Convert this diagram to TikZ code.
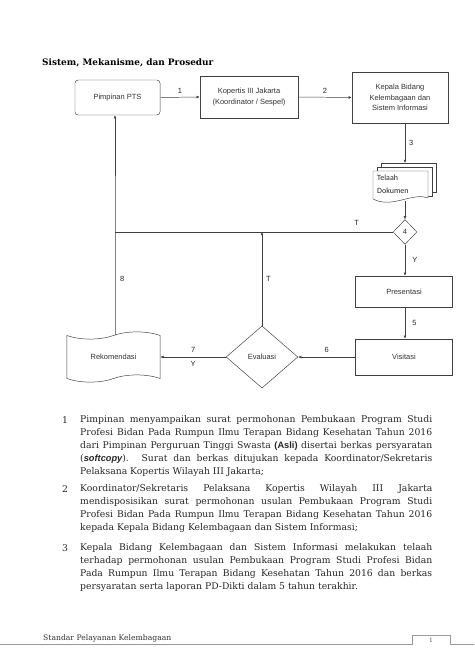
\documentclass[tikz,border=0pt]{standalone}
\usepackage{fontspec}
\setmainfont{DejaVu Serif}
\setsansfont{Liberation Sans}
\newfontfamily\docfont{Carlito}
\usetikzlibrary{shapes.geometric,shapes.symbols,arrows.meta}
\newcommand\flowfont{\sffamily\fontsize{9.4}{13.2}\selectfont}
\newcommand\bodyfont{\fontsize{11.6}{16.3}\selectfont}
\tikzset{
  box/.style={draw=black!75,fill=white,align=center,font=\flowfont,text=black!80},
  pbox/.style={box,rounded corners=4pt},
  dec/.style={box,diamond},
  rekombox/.style={box,tape,tape bend top=in and out,tape bend bottom=in and out,tape bend height=9pt},
  lbl/.style={font=\flowfont,text=black!85,inner sep=2pt},
  flow/.style={->,draw=black!75},
  para/.style={text width=441.8pt,align=justify,font=\bodyfont,text=black!85},
}
\begin{document}
\begin{tikzpicture}[x=1.255pt,y=-1.255pt,> = {Latex[length=4pt,width=3.5pt]},line width=0.6pt,every node/.style={inner sep=0pt}]
	\useasboundingbox (0,0) rectangle (474,670);
	% title
	\node[anchor=base west,font=\bfseries\fontsize{11.2}{13}\selectfont] (title) at (42,66) {Sistem, Mekanisme, dan Prosedur};
	% flow chart
	\node[pbox,minimum width=106.7pt,minimum height=43.9pt] (pimpinan) at (117.5,97.5) {Pimpinan PTS};
	\node[box,minimum width=123pt,minimum height=52.7pt] (kopertis) at (249,97) {Kopertis III Jakarta\\(Koordinator / Sespel)};
	\node[box,minimum width=120.5pt,minimum height=64pt] (kepala) at (400,97.5) {Kepala Bidang\\Kelembagaan dan\\Sistem Informasi};
	% telaah dokumen
	\draw[draw=black!75,fill=white] (381,168) -- (381,163) -- (436,163) -- (436,192) -- (432,192);
	\draw[draw=black!75,fill=white] (377,172) -- (377,167) -- (432,167) -- (432,196) -- (428,196);
	\draw[draw=black!75,fill=white] (373,171) -- (428,171) -- (428,198) .. controls (412,192) and (392,209) .. (373,199) -- cycle;
	\node[anchor=west,align=left,font=\docfont\fontsize{10}{16}\selectfont,text=black!85] (telaah) at (377,184.5) {Telaah\\Dokumen};
	\coordinate (doctop) at (405,163);
	\coordinate (docbot) at (405,201);
	\node[dec,minimum width=30pt,minimum height=31pt] (d4) at (405,232) {4};
	\node[box,minimum width=121.7pt,minimum height=38.9pt] (present) at (404,291.5) {Presentasi};
	\node[box,minimum width=121.7pt,minimum height=45.2pt] (visit) at (404,357) {Visitasi};
	\node[dec,minimum width=90pt,minimum height=78pt] (eval) at (262,357) {Evaluasi};
	\node[rekombox,minimum width=117pt,minimum height=63pt] (rekom) at (113.5,357) {Rekomendasi};
	\coordinate (j8) at (115,232);
	% connectors
	\draw[flow] (pimpinan.east) -- node[lbl,above=3pt] {1} (kopertis.west);
	\draw[flow] (kopertis.east) -- node[lbl,above=3pt] {2} (kepala.west);
	\draw[flow] (kepala.south -| d4.north) -- node[lbl,right=3pt] {3} (doctop);
	\draw[flow] (docbot) -- (d4.north);
	\draw[draw=black!75] (d4.west) -- node[lbl,above=6pt,pos=0.13] {T} (j8);
	\draw[flow] (rekom.north -| j8) -- node[lbl,right=4pt,pos=0.55] {8} (j8) -- (pimpinan.south -| j8);
	\draw[flow] (d4.south) -- node[lbl,right=7pt] {Y} (present.north -| d4.south);
	\draw[flow] (present.south -| d4.south) -- node[lbl,right=7pt] {5} (visit.north -| d4.south);
	\draw[flow] (visit.west) -- node[lbl,above=3pt] {6} (eval.east);
	\draw[flow] (eval.west) -- node[lbl,above=3pt] {7} node[lbl,below=3pt] {Y} (rekom.east);
	\draw[flow] (eval.north) -- node[lbl,right=3pt] {T} (eval.north |- d4.west);
	% uraian
	\node[anchor=base west,font=\bodyfont,text=black!85] (n1) at (62,423) {1};
	\node[para,anchor=north west] (p1) at (80,415) {Pimpinan menyampaikan surat permohonan Pembukaan Program Studi\linebreak
		Profesi Bidan Pada Rumpun Ilmu Terapan Bidang Kesehatan Tahun 2016\linebreak
		dari Pimpinan Perguruan Tinggi Swasta {\sffamily\bfseries(Asli)} disertai berkas persyaratan\linebreak
		({\sffamily\bfseries\itshape softcopy}). Surat dan berkas ditujukan kepada Koordinator/Sekretaris\linebreak
		Pelaksana Kopertis Wilayah III Jakarta;};
	\node[anchor=base west,font=\bodyfont,text=black!85] (n2) at (62,492) {2};
	\node[para,anchor=north west] (p2) at (80,484) {Koordinator/Sekretaris Pelaksana Kopertis Wilayah III Jakarta\linebreak
		mendisposisikan surat permohonan usulan Pembukaan Program Studi\linebreak
		Profesi Bidan Pada Rumpun Ilmu Terapan Bidang Kesehatan Tahun 2016\linebreak
		kepada Kepala Bidang Kelembagaan dan Sistem Informasi;};
	\node[anchor=base west,font=\bodyfont,text=black!85] (n3) at (62,551) {3};
	\node[para,anchor=north west] (p3) at (80,543) {Kepala Bidang Kelembagaan dan Sistem Informasi melakukan telaah\linebreak
		terhadap permohonan usulan Pembukaan Program Studi Profesi Bidan\linebreak
		Pada Rumpun Ilmu Terapan Bidang Kesehatan Tahun 2016 dan berkas\linebreak
		persyaratan serta laporan PD-Dikti dalam 5 tahun terakhir.};
	% footer
	\node[anchor=base west,font=\fontsize{9.6}{11}\selectfont,text=black!80] (footer) at (43,640) {Standar Pelayanan Kelembagaan};
	\draw[black!40,line width=0.5pt] (0,644) -- (412,644) -- (412,635) -- (450,635) -- (450,644) -- (474,644);
	\node[font=\fontsize{7.5}{8}\selectfont,text=black!70] (page) at (431,640) {1};
\end{tikzpicture}
\end{document}
